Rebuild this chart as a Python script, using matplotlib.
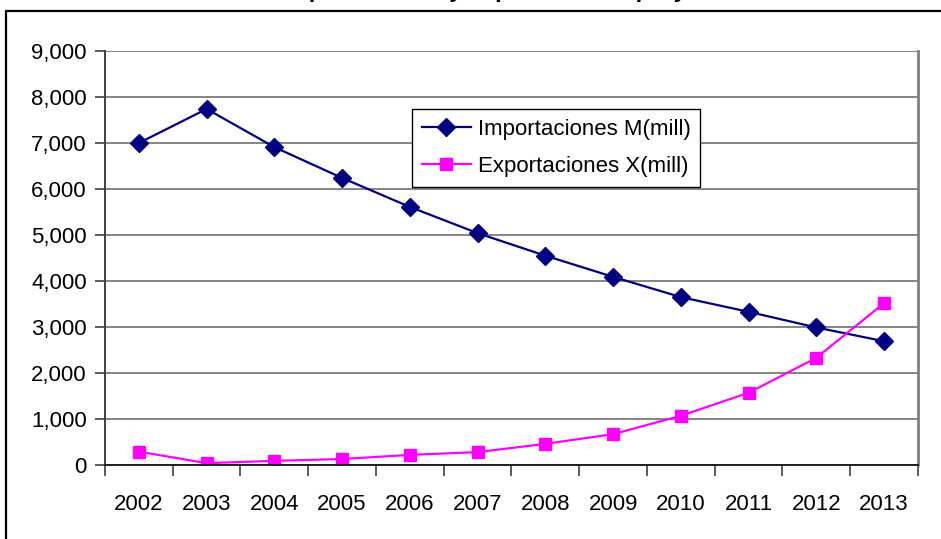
import matplotlib.pyplot as plt
from matplotlib.patches import Rectangle
from matplotlib.ticker import FuncFormatter, FixedLocator

plt.rcParams['font.family'] = ['Liberation Sans', 'DejaVu Sans']

years = ['2002', '2003', '2004', '2005', '2006', '2007',
         '2008', '2009', '2010', '2011', '2012', '2013']
importaciones = [7000, 7740, 6910, 6240, 5610, 5040,
                 4550, 4090, 3650, 3330, 2990, 2690]
exportaciones = [290, 40, 90, 130, 220, 280,
                 460, 670, 1070, 1570, 2330, 3520]

title = 'Importaciones y exportaciones proyectadas'
label_m = 'Importaciones M(mill)'
label_x = 'Exportaciones X(mill)'

fig = plt.figure(figsize=(9.41, 5.39), dpi=100)
W, H = 941, 539
ax = fig.add_axes([105 / W, 1 - 465 / H, (918 - 105) / W, (465 - 51) / H])

# outer chart border, partly cropped like the source screenshot
fig.patches.append(Rectangle((6 / W, -0.1), 1.2, 1.1 - 11 / H,
                             transform=fig.transFigure, fill=False,
                             edgecolor='black', linewidth=1.6))
# title, only its descenders remain in the crop
fig.text(528 / W, 1 + 2.5 / H, title, ha='center', va='baseline',
         fontsize=17, fontweight='bold')

x = list(range(len(years)))
ax.plot(x, importaciones, color='#000080', linewidth=1.6, marker='D',
        markersize=9, label=label_m)
ax.plot(x, exportaciones, color='#FF00FF', linewidth=1.6, marker='s',
        markersize=8.5, label=label_x)

ax.set_xlim(-0.5, len(years) - 0.5)
ax.set_ylim(0, 9000)
ax.set_yticks(range(0, 9001, 1000))
ax.yaxis.set_major_formatter(FuncFormatter(lambda v, p: f'{int(v):,}'))
ax.set_xticks(x)
ax.set_xticklabels(years)
ax.xaxis.set_minor_locator(FixedLocator([i - 0.5 for i in range(len(years) + 1)]))
ax.tick_params(axis='x', which='major', length=0, pad=21, labelsize=16)
ax.tick_params(axis='x', which='minor', length=8, width=1.2, color='#404040')
ax.tick_params(axis='y', length=7, width=1.2, color='#404040', labelsize=16, pad=6)

ax.grid(axis='y', color='#707070', linewidth=1.2)
ax.set_axisbelow(True)
ax.spines['top'].set_visible(False)
ax.spines['left'].set_color('#404040')
ax.spines['left'].set_linewidth(1.4)
ax.spines['bottom'].set_color('#202020')
ax.spines['bottom'].set_linewidth(1.4)
ax.spines['right'].set_color('#808080')
ax.spines['right'].set_linewidth(2)

leg = ax.legend(loc='upper left', bbox_to_anchor=((412 - 105) / (918 - 105), (465 - 109) / (465 - 51)),
                fontsize=16, frameon=True, fancybox=False, framealpha=1,
                edgecolor='black', handlelength=2.2, handletextpad=0.3,
                borderpad=0.45, labelspacing=0.7, borderaxespad=0)
leg.get_frame().set_linewidth(1.0)

fig.savefig('out.png', dpi=100)
